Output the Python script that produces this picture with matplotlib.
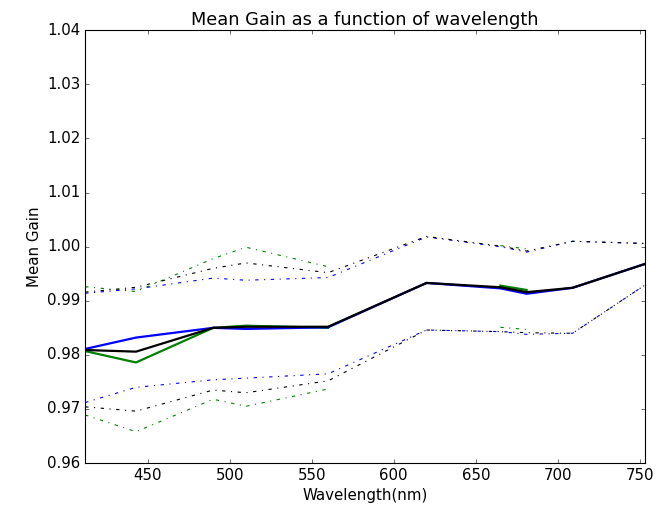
import numpy as np
import matplotlib
matplotlib.use("Agg")
import matplotlib.pyplot as plt

plt.style.use("classic")

# Wavelengths (nm)
wavelength = [412, 443, 490, 510, 560, 620, 665, 681, 709, 753]

nan = np.nan

# Mean gain per band, three series (blue, green, black)
blue_mean = [0.9811, 0.9832, 0.9850, 0.9848, 0.9851, 0.9933, 0.9923, 0.9913, 0.9924, 0.9968]
green_mean = [0.9807, 0.9786, 0.9850, 0.9854, 0.9850, nan, 0.9928, 0.9920, nan, nan]
black_mean = [0.9809, 0.9806, 0.9850, 0.9852, 0.9852, 0.9933, 0.9925, 0.9916, 0.9924, 0.9968]

# Upper / lower envelopes (dash-dot)
blue_upper = [0.9914, 0.9922, 0.9942, 0.9938, 0.9943, 1.0018, 1.0000, 0.9990, 1.0010, 1.0006]
green_upper = [0.9926, 0.9917, 0.9978, 0.9999, 0.9963, nan, 1.0002, 0.9996, nan, nan]
black_upper = [0.9916, 0.9925, 0.9960, 0.9970, 0.9952, 1.0019, 1.0001, 0.9992, 1.0010, 1.0006]

blue_lower = [0.9712, 0.9740, 0.9754, 0.9757, 0.9765, 0.9846, 0.9843, 0.9838, 0.9840, 0.9929]
green_lower = [0.9689, 0.9658, 0.9718, 0.9705, 0.9737, nan, 0.9851, 0.9847, nan, nan]
black_lower = [0.9704, 0.9696, 0.9735, 0.9730, 0.9752, 0.9846, 0.9843, 0.9841, 0.9840, 0.9929]

fig = plt.figure(figsize=(8.25, 6.3125), dpi=80)
ax = fig.add_subplot(111)

ax.plot(wavelength, green_mean, "g-", lw=2)
ax.plot(wavelength, green_upper, "g-.")
ax.plot(wavelength, green_lower, "g-.")
ax.plot(wavelength, blue_mean, "b-", lw=2)
ax.plot(wavelength, blue_upper, "b-.")
ax.plot(wavelength, blue_lower, "b-.")
ax.plot(wavelength, black_mean, "k-", lw=2)
ax.plot(wavelength, black_upper, "k-.")
ax.plot(wavelength, black_lower, "k-.")

ax.set_xlim(wavelength[0], wavelength[-1])
ax.set_ylim(0.96, 1.04)
ax.ticklabel_format(useOffset=False)
ax.tick_params(labelsize=13.5)
ax.set_title("Mean Gain as a function of wavelength", fontsize=16)
ax.set_xlabel("Wavelength(nm)", fontsize=13.5)
ax.set_ylabel("Mean Gain", fontsize=13.5)

fig.subplots_adjust(left=0.129, right=0.977, top=0.94, bottom=0.083)
fig.savefig("out.png", dpi=80)
